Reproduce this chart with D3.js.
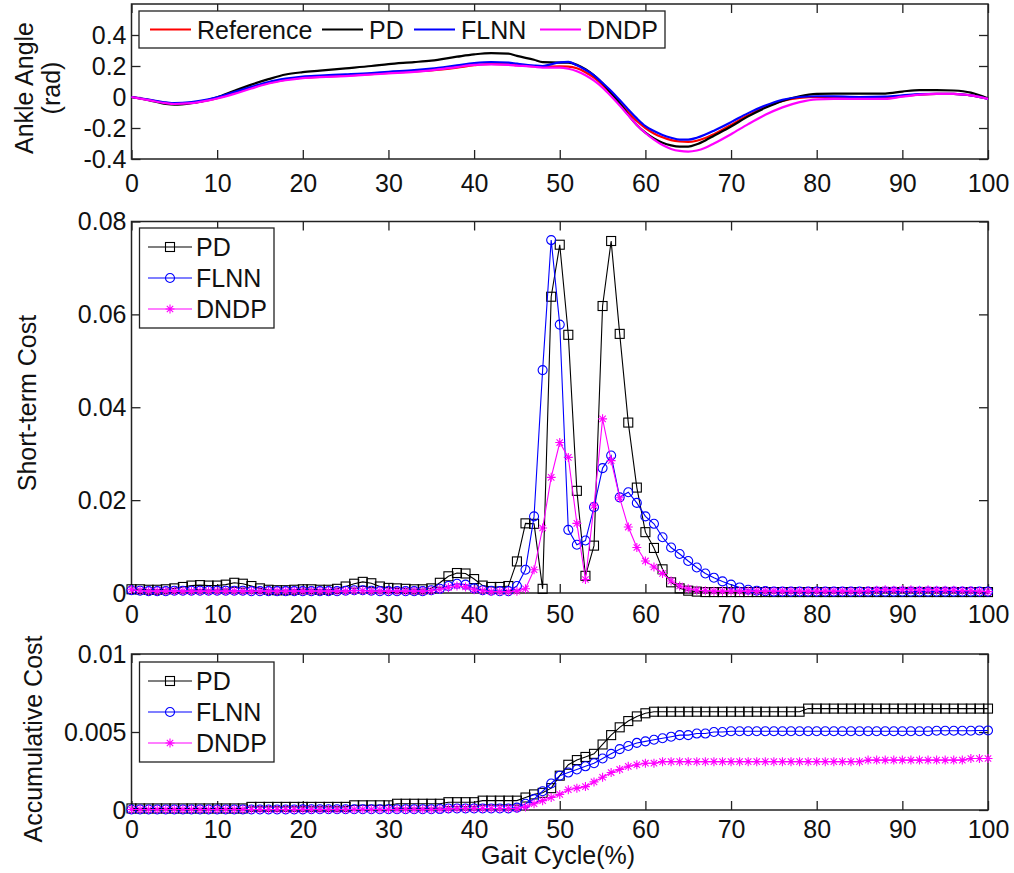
<!DOCTYPE html>
<html lang="en">
<head>
<meta charset="UTF-8">
<title>Gait cycle costs</title>
<script src="https://d3js.org/d3.v7.min.js"></script>
<style>
  body { margin: 0; background: #fff; }
  svg text { font-family: "Liberation Sans", Arial, sans-serif; }
</style>
</head>
<body>
<svg id="chart" width="1014" height="873"></svg>
<script>
// ---- top panel: ankle angle (rad) ----
var angleX = [0, 2, 4, 5, 7, 9, 10, 12, 14, 16, 18, 20, 22, 25, 28, 30, 33, 35, 38, 40, 42, 44, 45, 47, 48, 50,
  51, 52, 53, 54, 55, 56, 57, 58, 59, 60, 61, 62, 63, 64, 65, 66, 67, 68, 70, 72, 74, 76, 78, 80, 82, 85, 88, 90,
  92, 94, 96, 98, 100];
var angleRef = [0, -0.018, -0.038, -0.042, -0.038, -0.02, -0.008, 0.025, 0.06, 0.09, 0.112, 0.125, 0.13, 0.138,
  0.148, 0.155, 0.165, 0.172, 0.19, 0.205, 0.213, 0.21, 0.205, 0.198, 0.195, 0.198, 0.196, 0.185, 0.16, 0.125,
  0.078, 0.022, -0.038, -0.098, -0.155, -0.2, -0.235, -0.26, -0.278, -0.287, -0.29, -0.282, -0.265, -0.24, -0.18,
  -0.118, -0.063, -0.025, -0.006, 0.0, 0.0, -0.003, -0.002, 0.005, 0.015, 0.02, 0.02, 0.01, -0.01];
var anglePD = [0, -0.02, -0.045, -0.05, -0.04, -0.018, -0.002, 0.04, 0.08, 0.115, 0.145, 0.16, 0.17, 0.185, 0.2,
  0.212, 0.225, 0.235, 0.26, 0.275, 0.283, 0.28, 0.265, 0.24, 0.225, 0.222, 0.222, 0.208, 0.18, 0.14, 0.088,
  0.025, -0.04, -0.115, -0.18, -0.23, -0.268, -0.295, -0.312, -0.32, -0.32, -0.305, -0.28, -0.25, -0.19, -0.125,
  -0.07, -0.025, 0.005, 0.02, 0.022, 0.022, 0.022, 0.035, 0.045, 0.045, 0.042, 0.028, -0.01];
var angleFLNN = [0, -0.016, -0.035, -0.04, -0.033, -0.015, -0.002, 0.032, 0.065, 0.097, 0.118, 0.132, 0.138,
  0.146, 0.155, 0.163, 0.173, 0.183, 0.204, 0.218, 0.225, 0.222, 0.215, 0.203, 0.2, 0.224, 0.226, 0.205, 0.176,
  0.14, 0.09, 0.039, -0.02, -0.08, -0.138, -0.188, -0.22, -0.245, -0.263, -0.275, -0.275, -0.263, -0.242, -0.217,
  -0.162, -0.104, -0.055, -0.018, 0.0, 0.005, 0.004, 0.0, 0.003, 0.01, 0.018, 0.02, 0.02, 0.01, -0.013];
var angleDNDP = [0, -0.02, -0.04, -0.045, -0.04, -0.022, -0.01, 0.02, 0.055, 0.087, 0.108, 0.122, 0.128, 0.135,
  0.145, 0.152, 0.162, 0.172, 0.193, 0.207, 0.21, 0.207, 0.203, 0.195, 0.19, 0.19, 0.182, 0.166, 0.14, 0.105,
  0.06, 0.005, -0.055, -0.118, -0.18, -0.232, -0.275, -0.31, -0.335, -0.348, -0.352, -0.345, -0.327, -0.3, -0.24,
  -0.175, -0.115, -0.067, -0.033, -0.015, -0.012, -0.012, -0.012, 0.002, 0.015, 0.02, 0.02, 0.01, -0.012];

// ---- middle + bottom panels: sampled every 1% of the gait cycle ----
var gait = d3.range(0, 101);
var shortPD = [
  0.0008, 0.0008, 0.0007, 0.0007, 0.0008, 0.001, 0.0013, 0.0016, 0.0017, 0.0016,
  0.0016, 0.0018, 0.0022, 0.002, 0.0015, 0.001, 0.0007, 0.0006, 0.0006, 0.0007,
  0.0008, 0.0008, 0.0007, 0.0007, 0.0009, 0.0014, 0.002, 0.0024, 0.0021, 0.0014,
  0.0011, 0.001, 0.0009, 0.0008, 0.0008, 0.001, 0.0022, 0.0036, 0.0043, 0.0042,
  0.003, 0.0016, 0.0013, 0.0013, 0.0015, 0.0068, 0.015, 0.0149, 0.0009, 0.0638,
  0.075, 0.0556, 0.022, 0.0037, 0.0102, 0.0618, 0.0758, 0.0558, 0.0367, 0.0227,
  0.0131, 0.0097, 0.0051, 0.0023, 0.001, 0.0005, 0.0003, 0.0002, 0.0002, 0.0002,
  0.0002, 0.0002, 0.0002, 0.0002, 0.0002, 0.0002, 0.0002, 0.0002, 0.0002, 0.0002,
  0.0002, 0.0002, 0.0002, 0.0002, 0.0002, 0.0002, 0.0002, 0.0002, 0.0002, 0.0002,
  0.0002, 0.0002, 0.0002, 0.0002, 0.0002, 0.0002, 0.0002, 0.0002, 0.0002, 0.0002, 0.0002];
var shortFLNN = [
  0.0006, 0.0005, 0.0004, 0.0004, 0.0004, 0.0005, 0.0005, 0.0005, 0.0005, 0.0005,
  0.0005, 0.0005, 0.0005, 0.0005, 0.0004, 0.0004, 0.0004, 0.0004, 0.0004, 0.0004,
  0.0004, 0.0004, 0.0004, 0.0004, 0.0004, 0.0005, 0.0006, 0.0006, 0.0005, 0.0004,
  0.0004, 0.0004, 0.0004, 0.0004, 0.0004, 0.0006, 0.0009, 0.0015, 0.002, 0.0018,
  0.001, 0.0006, 0.0005, 0.0004, 0.0004, 0.0015, 0.005, 0.0165, 0.048, 0.076,
  0.0578, 0.0136, 0.0104, 0.0113, 0.0185, 0.0269, 0.0296, 0.0206, 0.0217, 0.0194,
  0.0165, 0.0149, 0.012, 0.0098, 0.0084, 0.0069, 0.0055, 0.0042, 0.0033, 0.0025,
  0.0018, 0.0012, 0.0007, 0.0005, 0.0004, 0.0003, 0.0003, 0.0003, 0.0003, 0.0003,
  0.0003, 0.0003, 0.0003, 0.0003, 0.0003, 0.0003, 0.0003, 0.0003, 0.0003, 0.0003,
  0.0003, 0.0003, 0.0003, 0.0003, 0.0003, 0.0003, 0.0003, 0.0003, 0.0003, 0.0003, 0.0003];
var shortDNDP = [
  0.0007, 0.0005, 0.0004, 0.0004, 0.0004, 0.0004, 0.0004, 0.0004, 0.0004, 0.0004,
  0.0004, 0.0004, 0.0004, 0.0004, 0.0004, 0.0004, 0.0004, 0.0004, 0.0004, 0.0004,
  0.0004, 0.0004, 0.0004, 0.0004, 0.0004, 0.0004, 0.0005, 0.0005, 0.0004, 0.0004,
  0.0004, 0.0004, 0.0004, 0.0004, 0.0004, 0.0005, 0.0008, 0.0012, 0.0015, 0.0013,
  0.0007, 0.0005, 0.0003, 0.0003, 0.0003, 0.0004, 0.0009, 0.005, 0.014, 0.0249,
  0.0324, 0.0292, 0.015, 0.0029, 0.0188, 0.0375, 0.0285, 0.0205, 0.0142, 0.0098,
  0.0069, 0.0056, 0.0042, 0.0026, 0.0015, 0.0009, 0.0006, 0.0005, 0.0004, 0.0004,
  0.0004, 0.0004, 0.0004, 0.0004, 0.0004, 0.0004, 0.0004, 0.0004, 0.0004, 0.0004,
  0.0004, 0.0004, 0.0004, 0.0004, 0.0004, 0.0004, 0.0005, 0.0006, 0.0007, 0.0006,
  0.0007, 0.0007, 0.0006, 0.0007, 0.0006, 0.0006, 0.0006, 0.0005, 0.0005, 0.0004, 0.0003];

var accPD = [
  0.0001, 0.0001, 0.0001, 0.0001, 0.0001, 0.0001, 0.0001, 0.0001, 0.0001, 0.0001,
  0.0001, 0.0001, 0.0001, 0.0001, 0.0002, 0.0002, 0.0002, 0.0002, 0.0002, 0.0002,
  0.0002, 0.0002, 0.0002, 0.0002, 0.0002, 0.0002, 0.0003, 0.0003, 0.0003, 0.0003,
  0.0003, 0.0004, 0.0004, 0.0004, 0.0004, 0.0004, 0.0004, 0.0005, 0.0005, 0.0005,
  0.0005, 0.0006, 0.0006, 0.0006, 0.0006, 0.0006, 0.0008, 0.001, 0.0011, 0.0014,
  0.0022, 0.0029, 0.0032, 0.0034, 0.0036, 0.0042, 0.0048, 0.0053, 0.0057, 0.006,
  0.0062, 0.0063, 0.0063, 0.0063, 0.0063, 0.0063, 0.0063, 0.0063, 0.0063, 0.0063,
  0.0063, 0.0063, 0.0063, 0.0063, 0.0063, 0.0063, 0.0063, 0.0063, 0.0063, 0.0065,
  0.0065, 0.0065, 0.0065, 0.0065, 0.0065, 0.0065, 0.0065, 0.0065, 0.0065, 0.0065,
  0.0065, 0.0065, 0.0065, 0.0065, 0.0065, 0.0065, 0.0065, 0.0065, 0.0065, 0.0065, 0.0065];
var accFLNN = [
  0.00003, 0.00003, 0.00003, 0.00003, 0.00003, 0.00003, 0.00003, 0.00003, 0.00003, 0.00003,
  0.00003, 0.00003, 0.00003, 0.00003, 0.00003, 0.00003, 0.00003, 0.00003, 0.00003, 0.00003,
  0.00004, 0.00005, 0.00005, 0.00005, 0.00005, 0.00005, 0.00005, 0.00005, 0.00005, 0.00005,
  0.00005, 0.00005, 0.00005, 0.00005, 0.00005, 0.00005, 0.00006, 0.0001, 0.0001, 0.0001,
  0.0001, 0.0001, 0.0001, 0.0001, 0.0001, 0.00015, 0.0004, 0.0007, 0.0012, 0.0017,
  0.0022, 0.0024, 0.0026, 0.0028, 0.003, 0.0033, 0.0036, 0.0039, 0.0041, 0.0043,
  0.0044, 0.0045, 0.0046, 0.0047, 0.0048, 0.0048, 0.0049, 0.0049, 0.005, 0.005,
  0.00505, 0.00505, 0.00505, 0.00505, 0.00505, 0.00505, 0.00505, 0.00505, 0.00505, 0.00505,
  0.00505, 0.00505, 0.00505, 0.00505, 0.00505, 0.00505, 0.00505, 0.00505, 0.00505, 0.00505,
  0.00505, 0.00505, 0.00505, 0.00505, 0.00508, 0.00508, 0.00508, 0.00508, 0.00508, 0.0051, 0.0051];
var accDNDP = [
  0.00003, 0.00003, 0.00003, 0.00003, 0.00003, 0.00003, 0.00003, 0.00003, 0.00003, 0.00003,
  0.00003, 0.00003, 0.00003, 0.00003, 0.00003, 0.00003, 0.00003, 0.00003, 0.00003, 0.00003,
  0.00003, 0.00003, 0.00003, 0.00003, 0.00003, 0.00003, 0.00003, 0.00003, 0.00003, 0.00003,
  0.00003, 0.00003, 0.00003, 0.00003, 0.00003, 0.00003, 0.00005, 0.00007, 0.0001, 0.0001,
  0.0001, 0.0001, 0.0001, 0.0001, 0.0001, 0.0001, 0.0002, 0.0004, 0.0006, 0.0008,
  0.001, 0.0013, 0.0014, 0.0015, 0.0018, 0.0021, 0.0024, 0.0026, 0.0028, 0.0029,
  0.003, 0.003, 0.0031, 0.0031, 0.0031, 0.0031, 0.0031, 0.0031, 0.0031, 0.0031,
  0.0031, 0.0031, 0.0031, 0.0031, 0.0031, 0.0031, 0.0031, 0.0031, 0.0031, 0.0031,
  0.0031, 0.0031, 0.0031, 0.0031, 0.0031, 0.0031, 0.0032, 0.0032, 0.0032, 0.0032,
  0.0032, 0.0032, 0.0032, 0.0032, 0.0032, 0.0032, 0.0032, 0.0032, 0.0033, 0.0033, 0.0033];

var xTicks = d3.range(0, 101, 10);
var angleTicks = [-0.4, -0.2, 0, 0.2, 0.4];
var shortTicks = [0, 0.02, 0.04, 0.06, 0.08];
var accTicks = [0, 0.005, 0.01];

var svg = d3.select("#chart");
var FONT = 25;

// panel boxes (pixels)
var left = 131.5, right = 988;
var xScale = d3.scaleLinear().domain([0, 100]).range([left, right]);

function drawAxes(y, yTicks, yFmt, xPad) {
  var top = y.range()[1], bottom = y.range()[0];
  var g = svg.append("g");
  g.append("g")
    .attr("transform", "translate(0," + bottom + ")")
    .call(d3.axisBottom(xScale).tickValues(xTicks).tickSizeInner(-9).tickSizeOuter(0).tickPadding(xPad));
  g.append("g")
    .attr("transform", "translate(0," + top + ")")
    .call(d3.axisTop(xScale).tickValues(xTicks).tickSizeInner(-9).tickSizeOuter(0).tickFormat(""));
  g.append("g")
    .attr("transform", "translate(" + left + ",0)")
    .call(d3.axisLeft(y).tickValues(yTicks).tickSizeInner(-9).tickSizeOuter(0).tickPadding(5).tickFormat(yFmt));
  g.append("g")
    .attr("transform", "translate(" + right + ",0)")
    .call(d3.axisRight(y).tickValues(yTicks).tickSizeInner(-9).tickSizeOuter(0).tickFormat(""));
  g.selectAll(".domain").remove();
  g.selectAll("line").attr("stroke", "#222").attr("stroke-width", 1.3);
  g.selectAll("text").attr("font-size", FONT).attr("fill", "#111")
    .style("font-family", "'Liberation Sans', Arial, sans-serif");
  g.append("rect")
    .attr("x", left).attr("y", top)
    .attr("width", right - left).attr("height", bottom - top)
    .attr("fill", "none").attr("stroke", "#222").attr("stroke-width", 1.5);
  return g;
}

function yLabel(lines, x, cy) {
  lines.forEach(function (t, i) {
    svg.append("text")
      .attr("transform", "translate(" + (x + i * 27) + "," + cy + ")rotate(-90)")
      .attr("text-anchor", "middle")
      .attr("font-size", FONT)
      .attr("fill", "#111")
      .text(t);
  });
}

function marker(sel, type, color) {
  if (type === "square") {
    sel.append("rect").attr("x", -4.5).attr("y", -4.5).attr("width", 9).attr("height", 9)
      .attr("fill", "none").attr("stroke", color).attr("stroke-width", 1.1);
  } else if (type === "circle") {
    sel.append("circle").attr("r", 4.5)
      .attr("fill", "none").attr("stroke", color).attr("stroke-width", 1.1);
  } else {
    sel.append("path")
      .attr("d", "M-4.5,0H4.5M0,-4.5V4.5M-3.2,-3.2L3.2,3.2M-3.2,3.2L3.2,-3.2")
      .attr("fill", "none").attr("stroke", color).attr("stroke-width", 1.1);
  }
}

// ---------------- top panel ----------------
var yAngle = d3.scaleLinear().domain([-0.4, 0.6]).range([159, 4]);
drawAxes(yAngle, angleTicks, function (d) { return d === 0 ? "0" : d3.format(".1f")(d).replace("\u2212", "-"); }, 15);
yLabel(["Ankle Angle", "(rad)"], 33, 88);

var angleSeries = [
  { name: "Reference", values: angleRef, color: "#ff0000" },
  { name: "PD", values: anglePD, color: "#000000" },
  { name: "FLNN", values: angleFLNN, color: "#0000ff" },
  { name: "DNDP", values: angleDNDP, color: "#ff00ff" }
];
var angleLine = d3.line()
  .x(function (d) { return xScale(d[0]); })
  .y(function (d) { return yAngle(d[1]); })
  .curve(d3.curveMonotoneX);
angleSeries.forEach(function (s) {
  svg.append("path")
    .datum(angleX.map(function (x, i) { return [x, s.values[i]]; }))
    .attr("d", angleLine)
    .attr("fill", "none")
    .attr("stroke", s.color)
    .attr("stroke-width", 2.2);
});

// horizontal legend
var topLegend = svg.append("g");
topLegend.append("rect").attr("x", 139).attr("y", 11).attr("width", 526).attr("height", 37)
  .attr("fill", "#fff").attr("stroke", "#222").attr("stroke-width", 1.3);
var legendLineX = [150, 322, 414, 540];
angleSeries.forEach(function (s, i) {
  var lx = legendLineX[i];
  topLegend.append("line").attr("x1", lx).attr("x2", lx + 41).attr("y1", 29.5).attr("y2", 29.5)
    .attr("stroke", s.color).attr("stroke-width", 2.2);
  topLegend.append("text").attr("x", lx + 47).attr("y", 38.5)
    .attr("font-size", FONT).attr("fill", "#111").text(s.name);
});

// ---------------- middle + bottom panels ----------------
var costSeries = function (pd, flnn, dndp) {
  return [
    { name: "PD", values: pd, color: "#000000", marker: "square" },
    { name: "FLNN", values: flnn, color: "#0000ff", marker: "circle" },
    { name: "DNDP", values: dndp, color: "#ff00ff", marker: "star" }
  ];
};

function drawCostPanel(y, series, legendTop) {
  var line = d3.line()
    .x(function (d, i) { return xScale(gait[i]); })
    .y(function (d) { return y(d); });
  series.forEach(function (s) {
    svg.append("path").datum(s.values).attr("d", line)
      .attr("fill", "none").attr("stroke", s.color).attr("stroke-width", 1.1);
    var pts = svg.append("g").selectAll("g").data(s.values).enter().append("g")
      .attr("transform", function (d, i) { return "translate(" + xScale(gait[i]) + "," + y(d) + ")"; });
    marker(pts, s.marker, s.color);
  });
  var lg = svg.append("g");
  lg.append("rect").attr("x", 139.5).attr("y", legendTop).attr("width", 134.5).attr("height", 100)
    .attr("fill", "#fff").attr("stroke", "#222").attr("stroke-width", 1.3);
  series.forEach(function (s, i) {
    var cy = legendTop + 19 + i * 31;
    lg.append("line").attr("x1", 148).attr("x2", 192).attr("y1", cy).attr("y2", cy)
      .attr("stroke", s.color).attr("stroke-width", 1.1);
    marker(lg.append("g").attr("transform", "translate(170," + cy + ")"), s.marker, s.color);
    lg.append("text").attr("x", 196).attr("y", cy + 9)
      .attr("font-size", FONT).attr("fill", "#111").text(s.name);
  });
}

var yShort = d3.scaleLinear().domain([0, 0.08]).range([593, 221.5]);
drawAxes(yShort, shortTicks, function (d) { return d === 0 ? "0" : d3.format(".2f")(d); }, 12);
yLabel(["Short-term Cost"], 36, 403);
drawCostPanel(yShort, costSeries(shortPD, shortFLNN, shortDNDP), 228);

var yAcc = d3.scaleLinear().domain([0, 0.01]).range([810, 654]);
drawAxes(yAcc, accTicks, function (d) { return d === 0 ? "0" : d === 0.01 ? "0.01" : "0.005"; }, 10);
yLabel(["Accumulative Cost"], 42, 739);
drawCostPanel(yAcc, costSeries(accPD, accFLNN, accDNDP), 662);

svg.append("text")
  .attr("x", 558).attr("y", 864)
  .attr("text-anchor", "middle")
  .attr("font-size", FONT).attr("fill", "#111")
  .text("Gait Cycle(%)");
</script>
</body>
</html>
